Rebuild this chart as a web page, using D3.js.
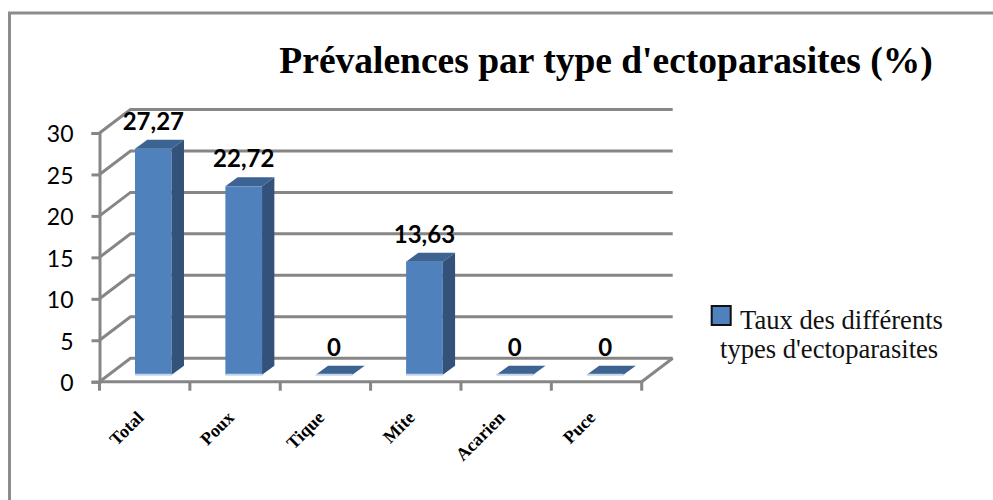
<!DOCTYPE html>
<html>
<head>
<meta charset="utf-8">
<script src="https://cdn.jsdelivr.net/npm/d3@7"></script>
<style>
    html, body { margin: 0; padding: 0; background: #fff; }
    svg { display: block; }
</style>
</head>
<body>
<div id="chart"></div>
<script>
var categories = ["Total", "Poux", "Tique", "Mite", "Acarien", "Puce"];
var values = [27.27, 22.72, 0, 13.63, 0, 0];
var yTicks = [0, 5, 10, 15, 20, 25, 30];
var titleText = "Prévalences par type d'ectoparasites (%)";
var legendLines = ["Taux des différents", "types d'ectoparasites"];

var width = 993, height = 500;
var gridColor = "#868686";
var serif = "'Liberation Serif', serif";
var sans = "Lato, sans-serif";

var svg = d3.select("#chart").append("svg")
    .attr("width", width)
    .attr("height", height);

// frame of the picture, only top and left are visible
svg.append("path")
    .attr("d", "M9.5,500V13H993")
    .attr("fill", "none")
    .attr("stroke", "#8c8c8c")
    .attr("stroke-width", 3);

svg.append("text")
    .attr("x", 606)
    .attr("y", 72.5)
    .attr("text-anchor", "middle")
    .attr("font-family", serif)
    .attr("font-weight", "bold")
    .attr("font-size", 37.5)
    .attr("fill", "#000")
    .text(titleText);

var xscale = d3.scaleBand()
    .domain(categories)
    .range([99.5, 641.7]);

var yscale = d3.scaleLinear()
    .domain([0, 30])
    .range([381.7, 133]);

// depth of the 3d floor and of a bar
var depthX = 31, depthY = -23.5;
var barDepthX = 12.3, barDepthY = -9;
var barWidth = xscale.step() * 0.406;
var barOffsetX = 35.5, barOffsetY = -7;

var grid = svg.append("g").attr("fill", "none").attr("stroke", gridColor).attr("stroke-width", 3);

// back wall lines and the slanted lines on the side wall
grid.selectAll(".back")
    .data(yTicks)
    .enter()
    .append("path")
    .attr("class", "back")
    .attr("d", function(d) {
        var x0 = xscale.range()[0], y0 = yscale(d);
        return "M" + x0 + "," + y0 + "L" + (x0 + depthX) + "," + (y0 + depthY) + "H" + (xscale.range()[1] + depthX);
    });

// floor right edge
grid.append("path")
    .attr("d", "M" + xscale.range()[1] + "," + yscale(0) + "l" + depthX + "," + depthY);

// y axis
var yaxis = d3.axisLeft(yscale).tickValues(yTicks).tickSize(8).tickPadding(18);
var gy = svg.append("g")
    .attr("transform", "translate(" + xscale.range()[0] + ",0)")
    .call(yaxis);
gy.select(".domain").attr("stroke", gridColor).attr("stroke-width", 3);
gy.selectAll("line").attr("stroke", gridColor).attr("stroke-width", 3);
gy.selectAll("text")
    .attr("dy", "0.39em")
    .attr("font-family", sans)
    .attr("font-size", 23)
    .attr("fill", "#000");

// x axis: line + ticks on band edges
var xEdges = categories.map(function(d) { return xscale(d); }).concat([xscale.range()[1]]);
svg.append("path")
    .attr("d", "M" + xscale.range()[0] + "," + yscale(0) + "H" + xscale.range()[1])
    .attr("stroke", gridColor)
    .attr("stroke-width", 3);
svg.selectAll(".xtick")
    .data(xEdges)
    .enter()
    .append("line")
    .attr("class", "xtick")
    .attr("x1", function(d) { return d; })
    .attr("x2", function(d) { return d; })
    .attr("y1", yscale(0))
    .attr("y2", yscale(0) + 9)
    .attr("stroke", gridColor)
    .attr("stroke-width", 3);

svg.selectAll(".xlabel")
    .data(categories)
    .enter()
    .append("text")
    .attr("class", "xlabel")
    .attr("text-anchor", "end")
    .attr("transform", function(d) {
        return "translate(" + (xscale(d) + xscale.step() * 0.5) + "," + (yscale(0) + 37) + ") rotate(-45)";
    })
    .attr("font-family", serif)
    .attr("font-weight", "bold")
    .attr("font-size", 18)
    .attr("fill", "#000")
    .text(function(d) { return d; });

// bars
var bars = svg.selectAll(".bar")
    .data(categories.map(function(c, i) { return { cat: c, value: values[i] }; }))
    .enter()
    .append("g")
    .attr("class", "bar");

function barLeft(d) { return xscale(d.cat) + barOffsetX; }
function barTop(d) { return yscale(d.value) + barOffsetY; }
var barBottom = yscale(0) + barOffsetY;

bars.filter(function(d) { return d.value > 0; })
    .append("rect")
    .attr("x", barLeft)
    .attr("y", barTop)
    .attr("width", barWidth)
    .attr("height", function(d) { return barBottom - barTop(d); })
    .attr("fill", "#4f81bd");

// right side
bars.filter(function(d) { return d.value > 0; })
    .append("path")
    .attr("fill", "#32527a")
    .attr("d", function(d) {
        var x = barLeft(d) + barWidth;
        return "M" + x + "," + barTop(d) + "l" + barDepthX + "," + barDepthY + "V" + (barBottom + barDepthY) + "l" + (-barDepthX) + "," + (-barDepthY) + "Z";
    });

// top face
bars.append("path")
    .attr("fill", "#3c6391")
    .attr("d", function(d) {
        var x = barLeft(d), y = barTop(d);
        return "M" + x + "," + y + "l" + barDepthX + "," + barDepthY + "h" + barWidth + "l" + (-barDepthX) + "," + (-barDepthY) + "Z";
    });

// light edge under each bar
bars.append("line")
    .attr("x1", barLeft)
    .attr("x2", function(d) { return barLeft(d) + barWidth; })
    .attr("y1", barBottom)
    .attr("y2", barBottom)
    .attr("stroke", "#c5d5e9")
    .attr("stroke-width", 2);

// value labels
bars.append("text")
    .attr("x", function(d) { return barLeft(d) + barWidth / 2; })
    .attr("y", function(d) { return barTop(d) + barDepthY - 10; })
    .attr("text-anchor", "middle")
    .attr("font-family", sans)
    .attr("font-weight", "bold")
    .attr("font-size", 24)
    .attr("fill", "#000")
    .text(function(d) { return String(d.value).replace(".", ","); });

// legend
svg.append("rect")
    .attr("x", 711.7)
    .attr("y", 306)
    .attr("width", 19)
    .attr("height", 19)
    .attr("fill", "#4f81bd")
    .attr("stroke", "#111")
    .attr("stroke-width", 2);

svg.selectAll(".legend")
    .data(legendLines)
    .enter()
    .append("text")
    .attr("class", "legend")
    .attr("x", function(d, i) { return i == 0 ? 740 : 720; })
    .attr("y", function(d, i) { return i == 0 ? 328.5 : 357.5; })
    .attr("font-family", serif)
    .attr("font-size", 26.6)
    .attr("fill", "#111")
    .text(function(d) { return d; });
</script>
</body>
</html>
